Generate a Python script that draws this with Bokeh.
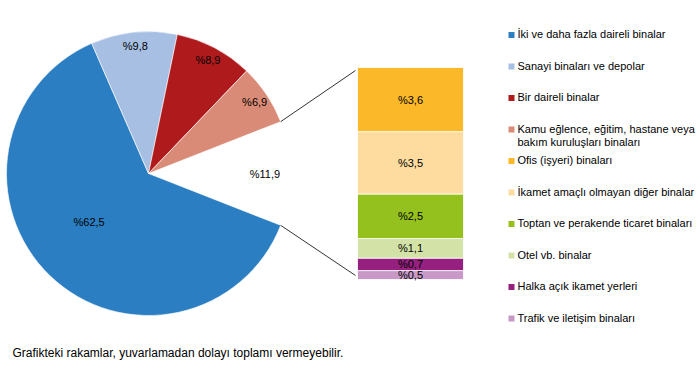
import numpy as np
from bokeh.plotting import figure
from bokeh.models import Range1d, ColumnDataSource
from bokeh.core.properties import value
from bokeh.embed import file_html
from bokeh.resources import INLINE

# ---------------- data ----------------
pie_labels = ["İki ve daha fazla daireli binalar",
              "Sanayi binaları ve depolar",
              "Bir daireli binalar",
              "Kamu eğlence, eğitim, hastane veya\nbakım kuruluşları binaları"]
pie_values = [62.5, 9.8, 8.9, 6.9]
pie_colors = ["#2B7EC1", "#A6BFE3", "#AF1B1C", "#D98B77"]

other_value = 11.9

bar_labels = ["Ofis (işyeri) binaları",
              "İkamet amaçlı olmayan diğer binalar",
              "Toptan ve perakende ticaret binaları",
              "Otel vb. binalar",
              "Halka açık ikamet yerleri",
              "Trafik ve iletişim binaları"]
bar_values = [3.6, 3.5, 2.5, 1.1, 0.7, 0.5]
bar_colors = ["#FBB829", "#FEDC9F", "#95C11F", "#D3E2A6", "#96207F", "#C899C6"]

footnote = "Grafikteki rakamlar, yuvarlamadan dolayı toplamı vermeyebilir."

FONT = "Liberation Sans"
W, H = 700, 391


def fmt(v):
    return "%" + f"{v:.1f}".replace(".", ",")


p = figure(width=W, height=H, output_backend="svg", toolbar_location=None,
           x_range=Range1d(0, W), y_range=Range1d(0, H),
           min_border=0, outline_line_color=None)
p.axis.visible = False
p.grid.visible = False

# ---------------- pie ----------------
cx, cy, R = 148, 218, 142
other_ang = other_value / 100 * 2 * np.pi
starts, ends, mids = [], [], []
a = other_ang / 2
for v in reversed(pie_values):
    s = a
    a = a + v / 100 * 2 * np.pi
    starts.append(s)
    ends.append(a)
    mids.append((s + a) / 2)
starts, ends, mids = starts[::-1], ends[::-1], mids[::-1]

pie_src = ColumnDataSource(dict(start=starts, end=ends, color=pie_colors))
p.wedge(x=cx, y=cy, radius=R, start_angle="start", end_angle="end",
        fill_color="color", line_color="white", line_width=0.6, source=pie_src)

lab_r = [0.54 * R if v > 50 else 0.9 * R for v in pie_values]
lab_a = [m - 0.12 if v > 50 else m for v, m in zip(pie_values, mids)]
lx = [cx + r * np.cos(m) for r, m in zip(lab_r, lab_a)]
ly = [cy + r * np.sin(m) for r, m in zip(lab_r, lab_a)]
p.text(x=lx, y=ly, text=[fmt(v) for v in pie_values], text_align="center",
       text_baseline="middle", text_font=value(FONT), text_font_size="11px",
       text_color="black")
p.text(x=[cx + 0.82 * R], y=[cy], text=[fmt(other_value)], text_align="center",
       text_baseline="middle", text_font=value(FONT), text_font_size="11px",
       text_color="black")

# ---------------- bar of pie ----------------
bar_x, bar_w = 410, 106
bar_bot_px, bar_top_px = 112, 324
scale = (bar_top_px - bar_bot_px) / sum(bar_values)
p.extra_y_ranges = {"bar": Range1d(-bar_bot_px / scale,
                                    sum(bar_values) + (H - bar_top_px) / scale)}
vals_b = bar_values[::-1]
cols_b = bar_colors[::-1]
bottoms = np.concatenate([[0], np.cumsum(vals_b)[:-1]])
tops = np.cumsum(vals_b)
bar_src = ColumnDataSource(dict(bottom=bottoms, top=tops, color=cols_b,
                                mid=(bottoms + tops) / 2,
                                lab=[fmt(v) for v in vals_b]))
p.vbar(x=bar_x, width=bar_w, bottom="bottom", top="top", fill_color="color",
       line_color="white", line_width=0.8, source=bar_src, y_range_name="bar")
p.text(x=bar_x, y="mid", text="lab", source=bar_src, y_range_name="bar",
       text_align="center", text_baseline="middle", text_font=value(FONT),
       text_font_size="11px", text_color="black")

# connector lines
ang_top = other_ang / 2
x0 = bar_x - bar_w / 2
p.segment(x0=[cx + R * np.cos(ang_top), cx + R * np.cos(-ang_top)],
          y0=[cy + R * np.sin(ang_top), cy + R * np.sin(-ang_top)],
          x1=[x0 - 2, x0 - 2], y1=[bar_top_px - 3, bar_bot_px + 4],
          line_color="#333333", line_width=1)

# ---------------- legend ----------------
leg_labels = pie_labels + bar_labels
leg_colors = pie_colors + bar_colors
leg_y0, leg_dy = 356.5, 31.5
leg_y = [leg_y0 - i * leg_dy for i in range(len(leg_labels))]
p.rect(x=511, y=leg_y, width=6, height=6, fill_color=leg_colors, line_color=None)
p.text(x=517, y=[y + 7 for y in leg_y], text=leg_labels, text_align="left",
       text_baseline="top", text_font=value(FONT), text_font_size="11px",
       text_color="black", text_line_height=1.15)

# ---------------- footnote ----------------
p.text(x=[12], y=[39], text=[footnote], text_align="left", text_baseline="middle",
       text_font=value(FONT), text_font_size="12px", text_color="black")

open("out.html", "w").write(file_html(p, INLINE))
